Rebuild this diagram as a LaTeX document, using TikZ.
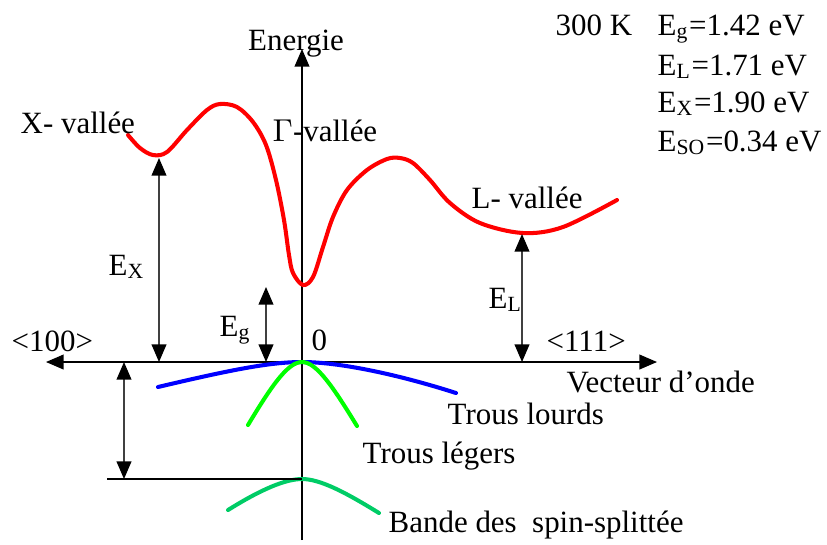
\documentclass[tikz,border=0pt]{standalone}
\usepackage{fontspec}
\setmainfont{Liberation Serif}
\usetikzlibrary{arrows.meta}

\definecolor{sogreen}{RGB}{0,204,102}
\tikzset{
  lbl/.style={inner sep=0pt, anchor=base west, font=\fontsize{8.8}{10}\selectfont},
  tip/.tip={Triangle[length=5pt,width=4.2pt,color=black]},
  axe/.style={line width=0.4pt, black},
  cote/.style={line width=0.4pt, black!75, tip-tip},
  bande/.style={line width=1.15pt, line cap=round}
}

\begin{document}
\begin{tikzpicture}[x=0.01cm, y=-0.01cm]
  \useasboundingbox (0,0) rectangle (827,544);

  % axes
  \coordinate (kleft) at (46,362);
  \coordinate (kright) at (657,362);
  \coordinate (ebot) at (302,540);
  \coordinate (etop) at (302,49);
  \draw[axe, tip-tip] (kleft) -- (kright);
  \draw[axe, -tip] (ebot) -- (etop);
  \node[lbl, anchor=base] (energie) at (296,50) {Energie};
  \node[lbl] (vecteur) at (566,392) {Vecteur d'onde};
  \node[lbl] (dir100) at (11,351) {<100>};
  \node[lbl] (dir111) at (546,351) {<111>};
  \node[lbl] (zero) at (311,350) {0};

  % bande de conduction
  \draw[bande, red] plot[smooth, tension=0.55] coordinates {
    (128,135) (140,148) (153,155) (167,152) (187,130) (207,110) (220,104)
    (237,107) (253,122) (266,145) (276,180) (284,220) (289,255) (293,273)
    (303,285) (313,277) (323,247) (333,217) (347,190) (367,170) (387,159)
    (400,158) (413,163) (430,180) (450,203) (480,223) (523,233) (563,227) (617,200)};
  \node[lbl] (xval) at (20,133) {X- vallée};
  \node[lbl] (gval) at (272,141) {$\Gamma$-vallée};
  \node[lbl] (lval) at (471,208) {L- vallée};

  % bandes de valence
  \draw[bande, blue] (158,387) .. controls (230,370) and (270,362) .. (302,362)
    .. controls (340,362) and (400,375) .. (456,393);
  \draw[bande, green] (248,425) .. controls (272,385) and (288,362) .. (302,362)
    .. controls (316,362) and (332,385) .. (357,426);
  \draw[bande, sogreen] (228,510) .. controls (260,490) and (285,479) .. (302,479)
    .. controls (320,479) and (345,492) .. (379,513);
  \node[lbl] (lourds) at (447,424) {Trous lourds};
  \node[lbl] (legers) at (362,463) {Trous légers};
  \node[lbl] (split) at (388,532) {Bande des\ \ spin-splittée};

  % energies
  \coordinate (xmin) at (159,158);
  \coordinate (xaxe) at (159,362);
  \coordinate (gmin) at (266,287);
  \coordinate (gaxe) at (266,362);
  \coordinate (lmin) at (522,234);
  \coordinate (laxe) at (522,362);
  \coordinate (sotop) at (124,362);
  \coordinate (sobot) at (124,479);
  \coordinate (soleft) at (107,479);
  \draw[cote] (xaxe) -- (xmin);
  \draw[cote] (gaxe) -- (gmin);
  \draw[cote] (laxe) -- (lmin);
  \draw[cote] (sotop) -- (sobot);
  \draw[axe] (soleft) -- (302,479);
  \node[lbl] (ex) at (108,275) {E\textsubscript{X}};
  \node[lbl] (eg) at (219,336) {E\textsubscript{g}};
  \node[lbl] (el) at (488,308) {E\textsubscript{L}};

  % valeurs
  \node[lbl] (temp) at (555,35) {300 K};
  \node[lbl] (vg) at (657,35) {E\textsubscript{g}=1.42 eV};
  \node[lbl] (vl) at (657,75) {E\textsubscript{L}=1.71 eV};
  \node[lbl] (vx) at (657,112) {E\textsubscript{X}=1.90 eV};
  \node[lbl] (vso) at (657,151) {E\textsubscript{SO}=0.34 eV};
\end{tikzpicture}
\end{document}
